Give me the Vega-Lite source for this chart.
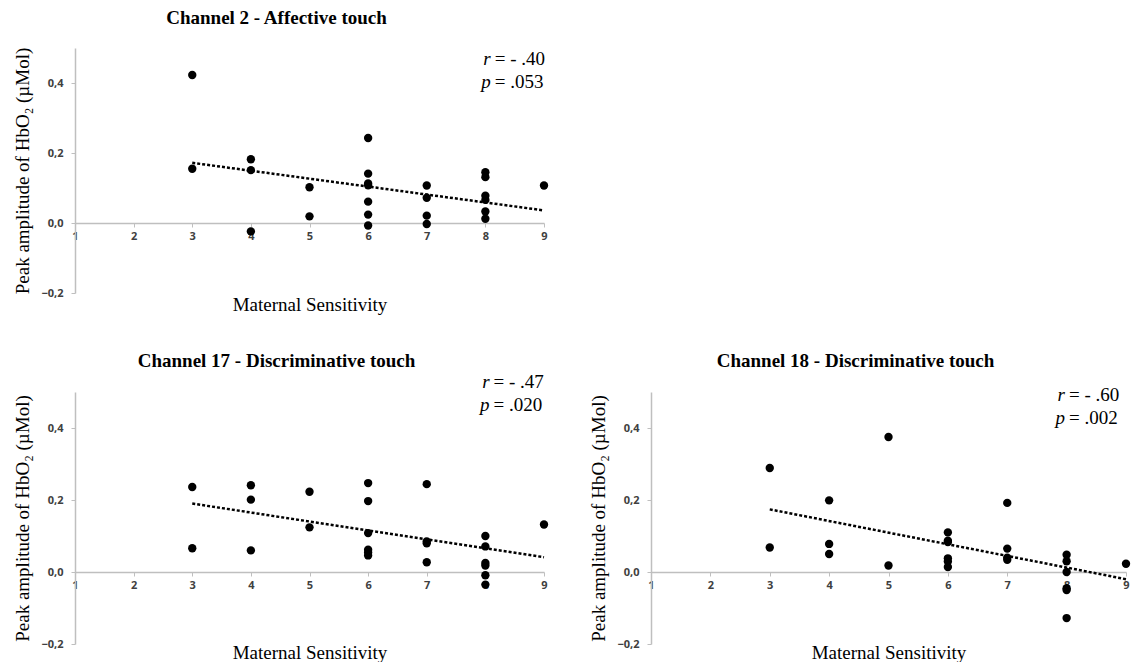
{
  "$schema": "https://vega.github.io/schema/vega-lite/v6.json",
  "background": "white",
  "padding": {"left": 13, "top": 9, "right": 0, "bottom": 0},
  "config": {
    "view": {"stroke": null},
    "title": {"font": "Liberation Serif", "fontSize": 19, "fontWeight": "bold", "color": "black", "offset": 22, "anchor": "middle", "dx": -33},
    "axis": {
      "grid": false,
      "domainColor": "#bfbfbf", "domainWidth": 1.5,
      "tickColor": "#bfbfbf", "tickSize": 4, "tickWidth": 1,
      "labelFont": "Open Sans", "labelFontSize": 11, "labelFontWeight": "bold", "labelColor": "#404040",
      "titleFont": "Liberation Serif", "titleFontSize": 19, "titleFontWeight": "normal", "titleColor": "black",
      "labelFlush": false, "labelOverlap": false, "labelBound": false
    }
  },
  "datasets": {
    "points": [
      {"panel": "ch2", "sensitivity": 3, "amplitude": 0.423},
      {"panel": "ch2", "sensitivity": 3, "amplitude": 0.155},
      {"panel": "ch2", "sensitivity": 4, "amplitude": 0.182},
      {"panel": "ch2", "sensitivity": 4, "amplitude": 0.151},
      {"panel": "ch2", "sensitivity": 4, "amplitude": -0.024},
      {"panel": "ch2", "sensitivity": 5, "amplitude": 0.102},
      {"panel": "ch2", "sensitivity": 5, "amplitude": 0.019},
      {"panel": "ch2", "sensitivity": 6, "amplitude": 0.243},
      {"panel": "ch2", "sensitivity": 6, "amplitude": 0.141},
      {"panel": "ch2", "sensitivity": 6, "amplitude": 0.113},
      {"panel": "ch2", "sensitivity": 6, "amplitude": 0.108},
      {"panel": "ch2", "sensitivity": 6, "amplitude": 0.061},
      {"panel": "ch2", "sensitivity": 6, "amplitude": 0.024},
      {"panel": "ch2", "sensitivity": 6, "amplitude": -0.007},
      {"panel": "ch2", "sensitivity": 7, "amplitude": 0.107},
      {"panel": "ch2", "sensitivity": 7, "amplitude": 0.072},
      {"panel": "ch2", "sensitivity": 7, "amplitude": 0.021},
      {"panel": "ch2", "sensitivity": 7, "amplitude": -0.003},
      {"panel": "ch2", "sensitivity": 8, "amplitude": 0.145},
      {"panel": "ch2", "sensitivity": 8, "amplitude": 0.131},
      {"panel": "ch2", "sensitivity": 8, "amplitude": 0.078},
      {"panel": "ch2", "sensitivity": 8, "amplitude": 0.066},
      {"panel": "ch2", "sensitivity": 8, "amplitude": 0.033},
      {"panel": "ch2", "sensitivity": 8, "amplitude": 0.012},
      {"panel": "ch2", "sensitivity": 9, "amplitude": 0.107},
      {"panel": "ch17", "sensitivity": 3, "amplitude": 0.236},
      {"panel": "ch17", "sensitivity": 3, "amplitude": 0.066},
      {"panel": "ch17", "sensitivity": 4, "amplitude": 0.241},
      {"panel": "ch17", "sensitivity": 4, "amplitude": 0.201},
      {"panel": "ch17", "sensitivity": 4, "amplitude": 0.060},
      {"panel": "ch17", "sensitivity": 5, "amplitude": 0.223},
      {"panel": "ch17", "sensitivity": 5, "amplitude": 0.124},
      {"panel": "ch17", "sensitivity": 6, "amplitude": 0.247},
      {"panel": "ch17", "sensitivity": 6, "amplitude": 0.197},
      {"panel": "ch17", "sensitivity": 6, "amplitude": 0.108},
      {"panel": "ch17", "sensitivity": 6, "amplitude": 0.062},
      {"panel": "ch17", "sensitivity": 6, "amplitude": 0.054},
      {"panel": "ch17", "sensitivity": 6, "amplitude": 0.046},
      {"panel": "ch17", "sensitivity": 7, "amplitude": 0.244},
      {"panel": "ch17", "sensitivity": 7, "amplitude": 0.085},
      {"panel": "ch17", "sensitivity": 7, "amplitude": 0.080},
      {"panel": "ch17", "sensitivity": 7, "amplitude": 0.027},
      {"panel": "ch17", "sensitivity": 8, "amplitude": 0.100},
      {"panel": "ch17", "sensitivity": 8, "amplitude": 0.071},
      {"panel": "ch17", "sensitivity": 8, "amplitude": 0.025},
      {"panel": "ch17", "sensitivity": 8, "amplitude": 0.018},
      {"panel": "ch17", "sensitivity": 8, "amplitude": -0.009},
      {"panel": "ch17", "sensitivity": 8, "amplitude": -0.035},
      {"panel": "ch17", "sensitivity": 9, "amplitude": 0.132},
      {"panel": "ch18", "sensitivity": 3, "amplitude": 0.289},
      {"panel": "ch18", "sensitivity": 3, "amplitude": 0.068},
      {"panel": "ch18", "sensitivity": 4, "amplitude": 0.199},
      {"panel": "ch18", "sensitivity": 4, "amplitude": 0.078},
      {"panel": "ch18", "sensitivity": 4, "amplitude": 0.050},
      {"panel": "ch18", "sensitivity": 5, "amplitude": 0.375},
      {"panel": "ch18", "sensitivity": 5, "amplitude": 0.018},
      {"panel": "ch18", "sensitivity": 6, "amplitude": 0.110},
      {"panel": "ch18", "sensitivity": 6, "amplitude": 0.087},
      {"panel": "ch18", "sensitivity": 6, "amplitude": 0.083},
      {"panel": "ch18", "sensitivity": 6, "amplitude": 0.038},
      {"panel": "ch18", "sensitivity": 6, "amplitude": 0.029},
      {"panel": "ch18", "sensitivity": 6, "amplitude": 0.014},
      {"panel": "ch18", "sensitivity": 7, "amplitude": 0.192},
      {"panel": "ch18", "sensitivity": 7, "amplitude": 0.065},
      {"panel": "ch18", "sensitivity": 7, "amplitude": 0.040},
      {"panel": "ch18", "sensitivity": 7, "amplitude": 0.034},
      {"panel": "ch18", "sensitivity": 8, "amplitude": 0.048},
      {"panel": "ch18", "sensitivity": 8, "amplitude": 0.030},
      {"panel": "ch18", "sensitivity": 8, "amplitude": 0.000},
      {"panel": "ch18", "sensitivity": 8, "amplitude": -0.045},
      {"panel": "ch18", "sensitivity": 8, "amplitude": -0.050},
      {"panel": "ch18", "sensitivity": 8, "amplitude": -0.128},
      {"panel": "ch18", "sensitivity": 9, "amplitude": 0.023}
    ],
    "trend": [
      {"panel": "ch2", "sensitivity": 3, "amplitude": 0.172},
      {"panel": "ch2", "sensitivity": 9, "amplitude": 0.036},
      {"panel": "ch17", "sensitivity": 3, "amplitude": 0.190},
      {"panel": "ch17", "sensitivity": 9, "amplitude": 0.041},
      {"panel": "ch18", "sensitivity": 3, "amplitude": 0.174},
      {"panel": "ch18", "sensitivity": 9, "amplitude": -0.020}
    ],
    "stats": [
      {"panel": "ch2", "letters": ["r", "p"], "values": ["= - .40", "= .053"]},
      {"panel": "ch17", "letters": ["r", "p"], "values": ["= - .47", "= .020"]},
      {"panel": "ch18", "letters": ["r", "p"], "values": ["= - .60", "= .002"]}
    ]
  },
  "spacing": 37,
  "vconcat": [
    {
      "width": 469, "height": 245,
      "title": {"text": "Channel 2 - Affective touch", "offset": 19},
      "resolve": {"axis": {"x": "independent", "y": "independent"}},
      "layer": [
        {
          "data": {"name": "points"},
          "transform": [{"filter": "datum.panel === 'ch2'"}],
          "mark": {"type": "circle", "size": 70, "color": "black", "opacity": 1},
          "encoding": {
            "x": {"field": "sensitivity", "type": "quantitative", "scale": {"domain": [1, 9], "nice": false, "zero": false},
                  "axis": {"orient": "bottom", "values": [1, 2, 3, 4, 5, 6, 7, 8, 9], "title": null, "offset": -70, "labelPadding": 3}},
            "y": {"field": "amplitude", "type": "quantitative", "scale": {"domain": [-0.2, 0.5], "nice": false, "zero": false},
                  "axis": {"orient": "left", "values": [-0.2, 0, 0.2, 0.4], "labelExpr": "replace(format(datum.value, '.1f'), '.', ',')", "title": "Peak amplitude of HbO₂ (µMol)", "labelPadding": 8, "titlePadding": 8}}
          }
        },
        {
          "data": {"name": "trend"},
          "transform": [{"filter": "datum.panel === 'ch2'"}],
          "mark": {"type": "line", "color": "black", "strokeWidth": 2.5, "strokeDash": [3, 2]},
          "encoding": {
            "x": {"field": "sensitivity", "type": "quantitative", "axis": {"orient": "bottom", "title": "Maternal Sensitivity", "labels": false, "ticks": false, "domain": false, "titlePadding": 2}},
            "y": {"field": "amplitude", "type": "quantitative", "axis": null}
          }
        },
        {
          "data": {"name": "stats"},
          "transform": [{"filter": "datum.panel === 'ch2'"}],
          "mark": {"type": "text", "font": "Liberation Serif", "fontSize": 19, "fontStyle": "italic", "align": "right", "baseline": "alphabetic", "dx": -4, "lineHeight": 22.5, "color": "black"},
          "encoding": {
            "x": {"datum": 8.16, "type": "quantitative", "axis": null},
            "y": {"datum": 0.451, "type": "quantitative", "axis": null},
            "text": {"field": "letters", "type": "nominal"}
          }
        },
        {
          "data": {"name": "stats"},
          "transform": [{"filter": "datum.panel === 'ch2'"}],
          "mark": {"type": "text", "font": "Liberation Serif", "fontSize": 19, "align": "left", "baseline": "alphabetic", "lineHeight": 22.5, "color": "black"},
          "encoding": {
            "x": {"datum": 8.16, "type": "quantitative", "axis": null},
            "y": {"datum": 0.451, "type": "quantitative", "axis": null},
            "text": {"field": "values", "type": "nominal"}
          }
        }
      ]
    },
    {
      "spacing": 40,
      "hconcat": [
        {
          "width": 469, "height": 252,
          "title": {"text": "Channel 17 - Discriminative touch", "offset": 2},
          "resolve": {"axis": {"x": "independent", "y": "independent"}},
          "layer": [
            {
              "data": {"name": "points"},
              "transform": [{"filter": "datum.panel === 'ch17'"}],
              "mark": {"type": "circle", "size": 70, "color": "black", "opacity": 1},
              "encoding": {
                "x": {"field": "sensitivity", "type": "quantitative", "scale": {"domain": [1, 9], "nice": false, "zero": false},
                      "axis": {"orient": "bottom", "values": [1, 2, 3, 4, 5, 6, 7, 8, 9], "title": null, "offset": -72, "labelPadding": 3}},
                "y": {"field": "amplitude", "type": "quantitative", "scale": {"domain": [-0.2, 0.5], "nice": false, "zero": false},
                      "axis": {"orient": "left", "values": [-0.2, 0, 0.2, 0.4], "labelExpr": "replace(format(datum.value, '.1f'), '.', ',')", "title": "Peak amplitude of HbO₂ (µMol)", "labelPadding": 8, "titlePadding": 8}}
              }
            },
            {
              "data": {"name": "trend"},
              "transform": [{"filter": "datum.panel === 'ch17'"}],
              "mark": {"type": "line", "color": "black", "strokeWidth": 2.5, "strokeDash": [3, 2]},
              "encoding": {
                "x": {"field": "sensitivity", "type": "quantitative", "axis": {"orient": "bottom", "title": "Maternal Sensitivity", "labels": false, "ticks": false, "domain": false, "titlePadding": -1}},
                "y": {"field": "amplitude", "type": "quantitative", "axis": null}
              }
            },
            {
              "data": {"name": "stats"},
              "transform": [{"filter": "datum.panel === 'ch17'"}],
              "mark": {"type": "text", "font": "Liberation Serif", "fontSize": 19, "fontStyle": "italic", "align": "right", "baseline": "alphabetic", "dx": -4, "lineHeight": 22.5, "color": "black"},
              "encoding": {
                "x": {"datum": 8.14, "type": "quantitative", "axis": null},
                "y": {"datum": 0.51, "type": "quantitative", "axis": null},
                "text": {"field": "letters", "type": "nominal"}
              }
            },
            {
              "data": {"name": "stats"},
              "transform": [{"filter": "datum.panel === 'ch17'"}],
              "mark": {"type": "text", "font": "Liberation Serif", "fontSize": 19, "align": "left", "baseline": "alphabetic", "lineHeight": 22.5, "color": "black"},
              "encoding": {
                "x": {"datum": 8.14, "type": "quantitative", "axis": null},
                "y": {"datum": 0.51, "type": "quantitative", "axis": null},
                "text": {"field": "values", "type": "nominal"}
              }
            }
          ]
        },
        {
          "width": 475, "height": 252,
          "title": {"text": "Channel 18 - Discriminative touch", "offset": 15},
          "resolve": {"axis": {"x": "independent", "y": "independent"}},
          "layer": [
            {
              "data": {"name": "points"},
              "transform": [{"filter": "datum.panel === 'ch18'"}],
              "mark": {"type": "circle", "size": 70, "color": "black", "opacity": 1},
              "encoding": {
                "x": {"field": "sensitivity", "type": "quantitative", "scale": {"domain": [1, 9], "nice": false, "zero": false},
                      "axis": {"orient": "bottom", "values": [1, 2, 3, 4, 5, 6, 7, 8, 9], "title": null, "offset": -72, "labelPadding": 3}},
                "y": {"field": "amplitude", "type": "quantitative", "scale": {"domain": [-0.2, 0.5], "nice": false, "zero": false},
                      "axis": {"orient": "left", "values": [-0.2, 0, 0.2, 0.4], "labelExpr": "replace(format(datum.value, '.1f'), '.', ',')", "title": "Peak amplitude of HbO₂ (µMol)", "labelPadding": 8, "titlePadding": 8}}
              }
            },
            {
              "data": {"name": "trend"},
              "transform": [{"filter": "datum.panel === 'ch18'"}],
              "mark": {"type": "line", "color": "black", "strokeWidth": 2.5, "strokeDash": [3, 2]},
              "encoding": {
                "x": {"field": "sensitivity", "type": "quantitative", "axis": {"orient": "bottom", "title": "Maternal Sensitivity", "labels": false, "ticks": false, "domain": false, "titlePadding": -1}},
                "y": {"field": "amplitude", "type": "quantitative", "axis": null}
              }
            },
            {
              "data": {"name": "stats"},
              "transform": [{"filter": "datum.panel === 'ch18'"}],
              "mark": {"type": "text", "font": "Liberation Serif", "fontSize": 19, "fontStyle": "italic", "align": "right", "baseline": "alphabetic", "dx": -4, "lineHeight": 22.5, "color": "black"},
              "encoding": {
                "x": {"datum": 8.04, "type": "quantitative", "axis": null},
                "y": {"datum": 0.475, "type": "quantitative", "axis": null},
                "text": {"field": "letters", "type": "nominal"}
              }
            },
            {
              "data": {"name": "stats"},
              "transform": [{"filter": "datum.panel === 'ch18'"}],
              "mark": {"type": "text", "font": "Liberation Serif", "fontSize": 19, "align": "left", "baseline": "alphabetic", "lineHeight": 22.5, "color": "black"},
              "encoding": {
                "x": {"datum": 8.04, "type": "quantitative", "axis": null},
                "y": {"datum": 0.475, "type": "quantitative", "axis": null},
                "text": {"field": "values", "type": "nominal"}
              }
            }
          ]
        }
      ]
    }
  ]
}
